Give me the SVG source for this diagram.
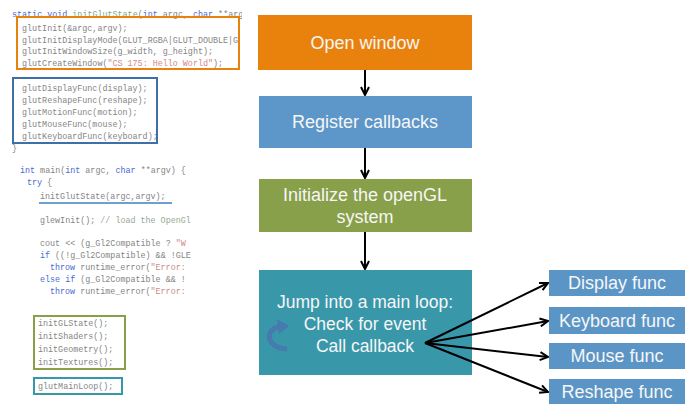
<svg xmlns="http://www.w3.org/2000/svg" width="695" height="404" viewBox="0 0 695 404">
<defs>
<style>
.code{font-family:"Liberation Mono","DejaVu Sans Mono",monospace;font-size:8.4px;fill:#858585}
.kw{fill:#4a6ad0}
.fn{fill:#80a880}
.st{fill:#d08a84}
.cm{fill:#98a898}
.lbl{font-family:"Liberation Sans",Arial,sans-serif;font-size:18px;fill:#f6f6f6;text-anchor:middle}
.conn{stroke:#000;stroke-width:2;fill:none}
</style>
<marker id="ah" viewBox="0 0 10 10" refX="9" refY="5" markerWidth="5" markerHeight="5" orient="auto" markerUnits="strokeWidth">
<path d="M1,1 L9,5 L1,9" fill="none" stroke="#000" stroke-width="2"/>
</marker>
<clipPath id="c1"><rect x="0" y="0" width="242" height="160"/></clipPath>
<clipPath id="c2"><rect x="0" y="160" width="192" height="244"/></clipPath>
</defs>
<rect width="695" height="404" fill="#fff"/>

<g id="code">
<g clip-path="url(#c1)">
<text class="code" x="12" y="17"><tspan class="kw">static void</tspan> <tspan class="fn">initGlutState</tspan>(<tspan class="kw">int</tspan> argc, <tspan class="kw">char</tspan> **arg</text>
<text class="code" x="22" y="31">glutInit(&amp;argc,argv);</text>
<text class="code" x="22" y="43">glutInitDisplayMode(GLUT_RGBA|GLUT_DOUBLE|G</text>
<text class="code" x="22" y="54">glutInitWindowSize(g_width, g_height);</text>
<text class="code" x="22" y="66">glutCreateWindow(<tspan class="st">"CS 175: Hello World"</tspan>);</text>
<text class="code" x="22" y="91">glutDisplayFunc(display);</text>
<text class="code" x="22" y="103">glutReshapeFunc(reshape);</text>
<text class="code" x="22" y="115">glutMotionFunc(motion);</text>
<text class="code" x="22" y="127">glutMouseFunc(mouse);</text>
<text class="code" x="22" y="139">glutKeyboardFunc(keyboard);</text>
<text class="code" x="12" y="151">}</text>
</g>
<g clip-path="url(#c2)">
<text class="code" x="20" y="173"><tspan class="kw">int</tspan> main(<tspan class="kw">int</tspan> argc, <tspan class="kw">char</tspan> **argv) {</text>
<text class="code" x="27" y="185"><tspan class="kw">try</tspan> {</text>
<text class="code" x="40" y="199">initGlutState(argc,argv);</text>
<text class="code" x="40" y="223">glewInit(); <tspan class="cm">// load the OpenGl</tspan></text>
<text class="code" x="40" y="246">cout &lt;&lt; (g_Gl2Compatible ? <tspan class="st">"W</tspan></text>
<text class="code" x="40" y="258"><tspan class="kw">if</tspan> ((!g_Gl2Compatible) &amp;&amp; !GLE</text>
<text class="code" x="50" y="270"><tspan class="kw">throw</tspan> runtime_error(<tspan class="st">"Error:</tspan></text>
<text class="code" x="40" y="282"><tspan class="kw">else if</tspan> (g_Gl2Compatible &amp;&amp; !</text>
<text class="code" x="50" y="294"><tspan class="kw">throw</tspan> runtime_error(<tspan class="st">"Error:</tspan></text>
<text class="code" x="38" y="326">initGLState();</text>
<text class="code" x="38" y="339">initShaders();</text>
<text class="code" x="38" y="352">initGeometry();</text>
<text class="code" x="38" y="365">initTextures();</text>
<text class="code" x="38" y="389">glutMainLoop();</text>
</g>
<rect x="17" y="17" width="222" height="52" fill="none" stroke="#E8820C" stroke-width="2"/>
<rect x="13" y="78" width="144" height="65" fill="none" stroke="#3F6FA8" stroke-width="2"/>
<line x1="39" y1="203" x2="172" y2="203" stroke="#3F7FC0" stroke-width="1.5"/>
<rect x="34" y="316" width="91" height="53" fill="none" stroke="#8AA048" stroke-width="2"/>
<rect x="34" y="378" width="88" height="16" fill="none" stroke="#3997AA" stroke-width="2"/>
</g>

<g id="open-window">
<rect x="258" y="15" width="214" height="55" fill="#E8820C"/>
<text class="lbl" x="365" y="49">Open window</text>
</g>
<g id="register-callbacks">
<rect x="259" y="96" width="213" height="52" fill="#5D96C8"/>
<text class="lbl" x="365" y="128">Register callbacks</text>
</g>
<g id="init-opengl">
<rect x="259" y="179" width="213" height="53" fill="#89A04A"/>
<text class="lbl" x="365" y="201">Initialize the openGL</text>
<text class="lbl" x="365" y="223">system</text>
</g>
<g id="main-loop">
<rect x="259" y="270" width="213" height="105" fill="#3997AA"/>
<text class="lbl" x="365" y="308" style="font-size:17.5px">Jump into a main loop:</text>
<text class="lbl" x="365" y="330" style="font-size:17.5px">Check for event</text>
<text class="lbl" x="365" y="352" style="font-size:17.5px">Call callback</text>
<path d="M287,349 C266,348 264,330 279,327" fill="none" stroke="#4A74AE" stroke-width="5" stroke-opacity="0.85"/>
<path d="M277,319 L289,326 L279,334 Z" fill="#4A74AE" fill-opacity="0.85"/>
</g>
<g id="display-func">
<rect x="549" y="270" width="136" height="26" fill="#5B95C6"/>
<text class="lbl" x="617" y="289">Display func</text>
</g>
<g id="keyboard-func">
<rect x="549" y="307" width="136" height="27" fill="#5B95C6"/>
<text class="lbl" x="617" y="327">Keyboard func</text>
</g>
<g id="mouse-func">
<rect x="549" y="343" width="136" height="26" fill="#5B95C6"/>
<text class="lbl" x="617" y="362">Mouse func</text>
</g>
<g id="reshape-func">
<rect x="549" y="379" width="136" height="25" fill="#5B95C6"/>
<text class="lbl" x="617" y="398">Reshape func</text>
</g>

<g id="connectors">
<line class="conn" x1="365" y1="70" x2="365" y2="95" marker-end="url(#ah)"/>
<line class="conn" x1="365" y1="148" x2="365" y2="178" marker-end="url(#ah)"/>
<line class="conn" x1="365" y1="232" x2="365" y2="269" marker-end="url(#ah)"/>
<line class="conn" x1="425" y1="343" x2="548" y2="283" marker-end="url(#ah)"/>
<line class="conn" x1="425" y1="343" x2="548" y2="321" marker-end="url(#ah)"/>
<line class="conn" x1="425" y1="343" x2="548" y2="357" marker-end="url(#ah)"/>
<line class="conn" x1="425" y1="343" x2="548" y2="392" marker-end="url(#ah)"/>
</g>
</svg>
